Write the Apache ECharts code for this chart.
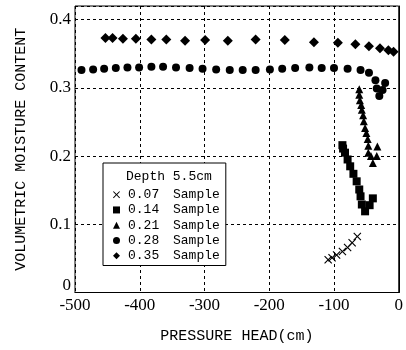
<!DOCTYPE html>
<html>
<head>
<meta charset="utf-8">
<script src="https://cdn.jsdelivr.net/npm/echarts/dist/echarts.min.js"></script>
<style>html,body{margin:0;padding:0;background:#fff}#c{width:406px;height:350px}</style>
</head>
<body>
<div id="c"></div>
<script>
// Pressure head (cm) and volumetric moisture content for each sample
var s007_x = [-109, -103, -96, -87, -79, -72, -64];
var s007_y = [0.048, 0.051, 0.055, 0.060, 0.066, 0.073, 0.082];

var s014_x = [-87, -86, -83, -79, -75, -70, -65, -61, -59, -57, -52, -45, -40];
var s014_y = [0.216, 0.211, 0.205, 0.195, 0.185, 0.174, 0.163, 0.151, 0.141, 0.129, 0.119, 0.128, 0.138];

var s021_x = [-61, -61, -60, -58, -57, -55, -54, -52, -50, -48, -47, -47, -43, -33, -34, -40];
var s021_y = [0.298, 0.290, 0.282, 0.275, 0.268, 0.260, 0.251, 0.241, 0.234, 0.225, 0.215, 0.205, 0.200, 0.214, 0.200, 0.190];

var s028_x = [-490, -472, -455, -437, -419, -401, -382, -364, -344, -323, -303, -282, -261, -241, -221, -199, -180, -160, -138, -119, -100, -79, -59, -46, -36, -21, -34, -25, -30];
var s028_y = [0.326, 0.327, 0.328, 0.329, 0.330, 0.330, 0.331, 0.331, 0.330, 0.329, 0.328, 0.327, 0.326, 0.326, 0.326, 0.327, 0.328, 0.329, 0.330, 0.329, 0.329, 0.328, 0.326, 0.322, 0.311, 0.307, 0.299, 0.297, 0.288];

var s035_x = [-453, -442, -426, -406, -382, -359, -330, -299, -264, -221, -176, -131, -94, -67, -46, -29, -16, -8];
var s035_y = [0.373, 0.373, 0.372, 0.372, 0.371, 0.371, 0.369, 0.370, 0.369, 0.371, 0.370, 0.367, 0.366, 0.364, 0.361, 0.358, 0.355, 0.353];

var seriesNames = ['0.07', '0.14', '0.21', '0.28', '0.35'];
var legendTitle = 'Depth 5.5cm';
var xTicks = [-500, -400, -300, -200, -100, 0];
var yTicks = [0, 0.1, 0.2, 0.3, 0.4];

function zip(a, b) { return a.map(function (v, i) { return [v, b[i]]; }); }

var crossPath = 'path://M0,1L1,0L5,4L9,0L10,1L6,5L10,9L9,10L5,6L1,10L0,9L4,5Z';
var mono = 'Liberation Mono';
var serif = 'Liberation Serif';
var mark = {color: '#000', opacity: 1};

var chart = echarts.init(document.getElementById('c'), null, {renderer: 'canvas'});
chart.setOption({
  animation: false,
  backgroundColor: '#fff',
  grid: {left: 75, right: 7, top: 6, bottom: 57.5, show: true, borderColor: '#000', borderWidth: 1, backgroundColor: 'transparent'},
  xAxis: {
    type: 'value', min: xTicks[0], max: xTicks[xTicks.length - 1], interval: 100,
    name: 'PRESSURE HEAD(cm)', nameLocation: 'middle', nameGap: 36,
    nameTextStyle: {fontFamily: mono, fontSize: 15, color: '#000'},
    axisLine: {lineStyle: {color: '#000', width: 1}},
    axisTick: {show: false},
    axisLabel: {fontFamily: serif, fontSize: 17, color: '#000', margin: 5},
    splitLine: {show: true, lineStyle: {color: '#000', width: 1, type: [3, 3]}}
  },
  yAxis: {
    type: 'value', min: yTicks[0], max: 0.42, interval: 0.1,
    name: 'VOLUMETRIC MOISTURE CONTENT', nameLocation: 'middle', nameGap: 46,
    nameTextStyle: {fontFamily: mono, fontSize: 15, color: '#000'},
    axisLine: {lineStyle: {color: '#000', width: 1}},
    axisTick: {show: false},
    axisLabel: {
      fontFamily: serif, fontSize: 17, color: '#000', margin: 4, showMaxLabel: false,
      formatter: function (v) {
        if (Math.abs(v) < 1e-9) return '{z|0}';
        return String(Math.round(v * 10) / 10);
      },
      rich: {z: {fontFamily: serif, fontSize: 17, color: '#000', padding: [0, 0, 14, 0]}}
    },
    splitLine: {show: true, lineStyle: {color: '#000', width: 1, type: [3, 3]}}
  },
  legend: {
    orient: 'vertical', left: 103, top: 163,
    padding: [24, 6, 2, 10], itemGap: 0, itemWidth: 7, itemHeight: 7,
    borderColor: '#000', borderWidth: 1, backgroundColor: '#fff',
    data: seriesNames,
    formatter: function (name) { return '{a|' + name + '}{b|Sample}'; },
    textStyle: {
      fontFamily: mono, fontSize: 13, color: '#000', lineHeight: 15.3,
      rich: {
        a: {fontFamily: mono, fontSize: 13, color: '#000', width: 45, padding: [0, 0, 0, 3], lineHeight: 15.3},
        b: {fontFamily: mono, fontSize: 13, color: '#000', lineHeight: 15.3}
      }
    }
  },
  graphic: [{
    type: 'text', left: 126, top: 170, z: 100,
    style: {text: legendTitle, font: '13px "Liberation Mono"', fill: '#000'}
  }],
  series: [
    {name: seriesNames[0], type: 'scatter', symbol: crossPath, symbolSize: 8, itemStyle: mark, data: zip(s007_x, s007_y)},
    {name: seriesNames[1], type: 'scatter', symbol: 'rect', symbolSize: 8, itemStyle: mark, data: zip(s014_x, s014_y)},
    {name: seriesNames[2], type: 'scatter', symbol: 'triangle', symbolSize: 8, itemStyle: mark, data: zip(s021_x, s021_y)},
    {name: seriesNames[3], type: 'scatter', symbol: 'circle', symbolSize: 8, itemStyle: mark, data: zip(s028_x, s028_y)},
    {name: seriesNames[4], type: 'scatter', symbol: 'diamond', symbolSize: 10, itemStyle: mark, data: zip(s035_x, s035_y)}
  ]
});
</script>
</body>
</html>
